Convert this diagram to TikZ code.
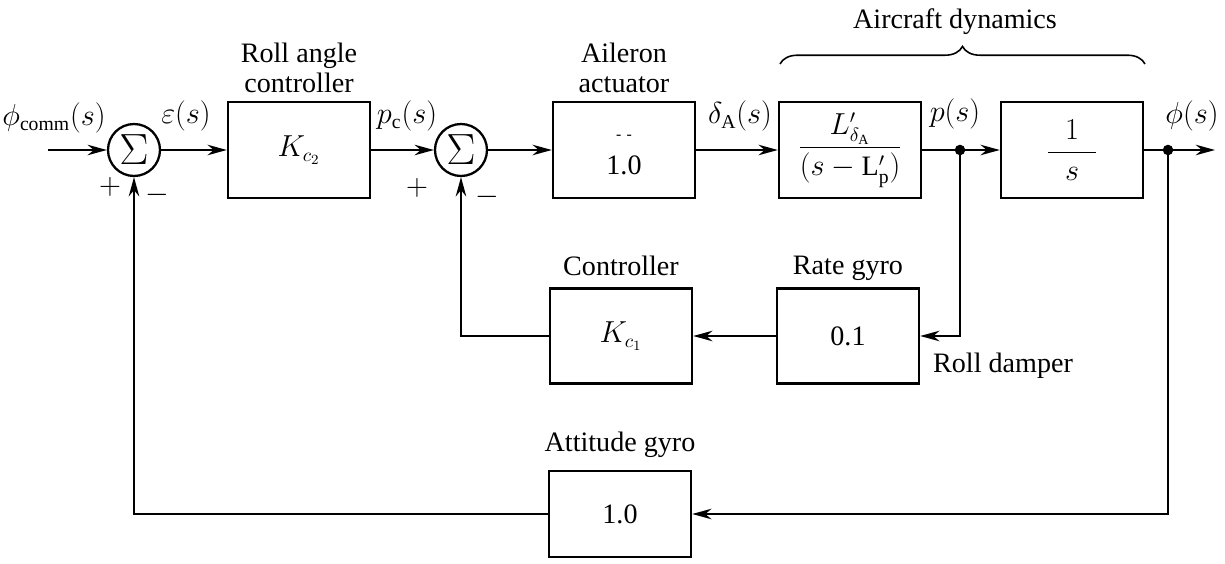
\documentclass[tikz,border=0pt]{standalone}
\usepackage{fontspec}
\setmainfont{Liberation Serif}
\usetikzlibrary{arrows.meta,decorations.pathreplacing}
\begin{document}
\begin{tikzpicture}[x=0.02cm,y=-0.02cm,
  block/.style={draw, line width=1.4pt, minimum width=2.84cm, minimum height=1.92cm, inner sep=2pt, font=\fontsize{16}{18}\selectfont, align=center},
  sumnode/.style={draw, circle, line width=1.3pt, minimum size=1.04cm, inner sep=0pt, font=\fontsize{24}{24}\selectfont},
  sig/.style={line width=1.1pt, -{Stealth[length=11pt,width=6pt]}},
  wire/.style={line width=1.1pt},
  lbl/.style={font=\fontsize{16}{17}\selectfont, align=center, inner sep=1pt},
  jdot/.style={circle, fill, inner sep=0pt, minimum size=6pt}]
\useasboundingbox (0,0) rectangle (1225,564);

% main path nodes
\coordinate (in) at (48,150);
\node[sumnode] (s1) at (134,150) {$\Sigma$};
\node[block] (kc2) at (299,150) {$K_{c_2}$};
\node[sumnode] (s2) at (461,150) {$\Sigma$};
\node[block] (ail) at (624,150) {\raisebox{0pt}[8pt][0pt]{\small -\,\,-}\\[2pt]1.0};
\node[block] (ldyn) at (850,150) {$\displaystyle\frac{\;L'_{\delta_{\mathrm{A}}}\;}{(s-\mathrm{L}'_{\mathrm{p}})}$};
\node[jdot] (pj) at (960,150) {};
\node[block] (os) at (1072,150) {$\displaystyle\frac{\;\;1\;\;}{s}$};
\node[jdot] (phij) at (1168,150) {};
\coordinate (out) at (1215,150);

% feedback blocks
\node[block, minimum height=1.9cm] (rg) at (848,336) {0.1};
\node[block, minimum height=1.9cm] (kc1) at (621,336) {$K_{c_1}$};
\node[block, minimum height=1.72cm] (ag) at (620,514) {1.0};

% labels
\node[lbl] (lrac) at (299,68) {Roll angle\\controller};
\node[lbl] (lail) at (624,68) {Aileron\\actuator};
\node[lbl] (lctl) at (621,266) {Controller};
\node[lbl] (lrg) at (848,268) {Rate gyro};
\node[lbl] (lrd) at (1003,366) {Roll damper};
\node[lbl] (lag) at (620,445) {Attitude gyro};
\node[lbl] (lad) at (955,22) {Aircraft dynamics};

\node[lbl] (lphic) at (54,118) {$\phi_{\mathrm{comm}}(s)$};
\node[lbl] (leps) at (186,116) {$\varepsilon(s)$};
\node[lbl] (lpc) at (407,116) {$p_{\mathrm{c}}(s)$};
\node[lbl] (lda) at (740,116) {$\delta_{\mathrm{A}}(s)$};
\node[lbl] (lp) at (955,114) {$p(s)$};
\node[lbl] (lphi) at (1192,116) {$\phi(s)$};

\node[lbl] (p1) at (110,187) {$+$};
\node[lbl] (m1) at (157,195) {$-$};
\node[lbl] (p2) at (417,188) {$+$};
\node[lbl] (m2) at (487,197) {$-$};

% brace
\draw[line width=0.9pt, decorate, decoration={brace, amplitude=10pt}] (780,64) -- (1145,64);

% forward path
\draw[sig] (in) -- (s1.west);
\draw[sig] (s1.east) -- (kc2.west);
\draw[sig] (kc2.east) -- (s2.west);
\draw[sig] (s2.east) -- (ail.west);
\draw[sig] (ail.east) -- (ldyn.west);
\draw[wire] (ldyn.east) -- (pj.center);
\draw[sig] (pj.center) -- (os.west);
\draw[wire] (os.east) -- (phij.center);
\draw[sig] (phij.center) -- (out);

% inner loop
\draw[sig] (pj.center) |- (rg.east);
\draw[sig] (rg.west) -- (kc1.east);
\draw[sig] (kc1.west) -| (s2.south);

% outer loop
\draw[sig] (phij.center) |- (ag.east);
\draw[sig] (ag.west) -| (s1.south);
\end{tikzpicture}
\end{document}
